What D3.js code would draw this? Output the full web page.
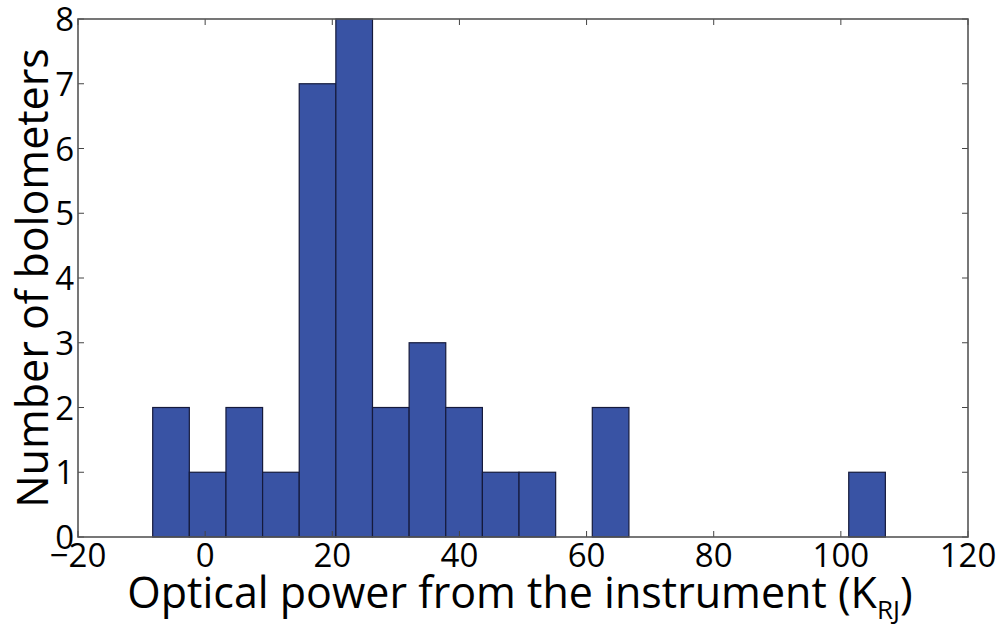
<!DOCTYPE html>
<html>
<head>
<meta charset="utf-8">
<script src="https://cdn.jsdelivr.net/npm/d3@7"></script>
<style>
  html, body { margin: 0; padding: 0; background: #fff; }
  svg { display: block; }
  text { font-family: "Open Sans", "DejaVu Sans", sans-serif; fill: #000; }
</style>
</head>
<body>
<svg id="chart" width="1003" height="626"></svg>
<script>
// Histogram of optical loading per bolometer: 20 equal-width bins
const binLow = -8.25;
const binHigh = 107.0;
const binCounts = [2, 1, 2, 1, 7, 8, 2, 3, 2, 1, 1, 0, 2, 0, 0, 0, 0, 0, 0, 1];
const xTicks = [-20, 0, 20, 40, 60, 80, 100, 120];
const yTicks = [0, 1, 2, 3, 4, 5, 6, 7, 8];
const xDomain = [-20, 120];
const yDomain = [0, 8];

const svg = d3.select("#chart");
const margin = { left: 78, right: 35, top: 19, bottom: 89 };
const W = 1003, H = 626;
const plotW = W - margin.left - margin.right;
const plotH = H - margin.top - margin.bottom;

const x = d3.scaleLinear().domain(xDomain).range([margin.left, margin.left + plotW]);
const y = d3.scaleLinear().domain(yDomain).range([margin.top + plotH, margin.top]);

const binWidth = (binHigh - binLow) / binCounts.length;
const bins = binCounts.map((c, i) => ({
  x0: binLow + i * binWidth,
  x1: binLow + (i + 1) * binWidth,
  count: c
})).filter(b => b.count > 0);

// bars
svg.append("g").selectAll("rect")
  .data(bins)
  .join("rect")
  .attr("x", d => x(d.x0))
  .attr("y", d => y(d.count))
  .attr("width", d => x(d.x1) - x(d.x0))
  .attr("height", d => y(0) - y(d.count))
  .attr("fill", "#3953a4")
  .attr("stroke", "#151a3c")
  .attr("stroke-width", 1.2);

// inward ticks on all four sides
const tickLen = 6;
const tickColor = "#444";
const axisGroup = svg.append("g");
const frameTop = margin.top, frameBottom = margin.top + plotH;
const frameLeft = margin.left, frameRight = margin.left + plotW;

const xt = axisGroup.append("g");
xTicks.forEach(t => {
  xt.append("line").attr("x1", x(t)).attr("x2", x(t))
    .attr("y1", frameBottom).attr("y2", frameBottom - tickLen)
    .attr("stroke", tickColor).attr("stroke-width", 1);
  xt.append("line").attr("x1", x(t)).attr("x2", x(t))
    .attr("y1", frameTop).attr("y2", frameTop + tickLen)
    .attr("stroke", tickColor).attr("stroke-width", 1);
});
const yt = axisGroup.append("g");
yTicks.forEach(t => {
  yt.append("line").attr("x1", frameLeft).attr("x2", frameLeft + tickLen)
    .attr("y1", y(t)).attr("y2", y(t))
    .attr("stroke", tickColor).attr("stroke-width", 1);
  yt.append("line").attr("x1", frameRight).attr("x2", frameRight - tickLen)
    .attr("y1", y(t)).attr("y2", y(t))
    .attr("stroke", tickColor).attr("stroke-width", 1);
});

// frame
svg.append("rect")
  .attr("x", frameLeft).attr("y", frameTop)
  .attr("width", plotW).attr("height", plotH)
  .attr("fill", "none").attr("stroke", "#555").attr("stroke-width", 1.6);

// tick labels
const fmt = v => (v < 0 ? "\u2212" + Math.abs(v) : String(v));
svg.append("g").selectAll("text")
  .data(xTicks)
  .join("text")
  .attr("x", d => x(d))
  .attr("y", frameBottom + 30)
  .attr("text-anchor", "middle")
  .attr("font-size", 33)
  .text(fmt);

svg.append("g").selectAll("text")
  .data(yTicks)
  .join("text")
  .attr("x", frameLeft - 4)
  .attr("y", d => y(d) + 12)
  .attr("text-anchor", "end")
  .attr("font-size", 33)
  .text(d => d);

// axis titles
const xTitle = svg.append("text")
  .attr("x", (frameLeft + frameRight) / 2 - 3)
  .attr("y", 608)
  .attr("text-anchor", "middle")
  .attr("font-size", 43);
xTitle.append("tspan").text("Optical power from the instrument (K");
xTitle.append("tspan").attr("font-size", 26).attr("dy", 11).text("RJ");
xTitle.append("tspan").attr("dy", -11).text(")");

svg.append("text")
  .attr("transform", `translate(48, ${(frameTop + frameBottom) / 2}) rotate(-90)`)
  .attr("text-anchor", "middle")
  .attr("font-size", 43)
  .text("Number of bolometers");
</script>
</body>
</html>
